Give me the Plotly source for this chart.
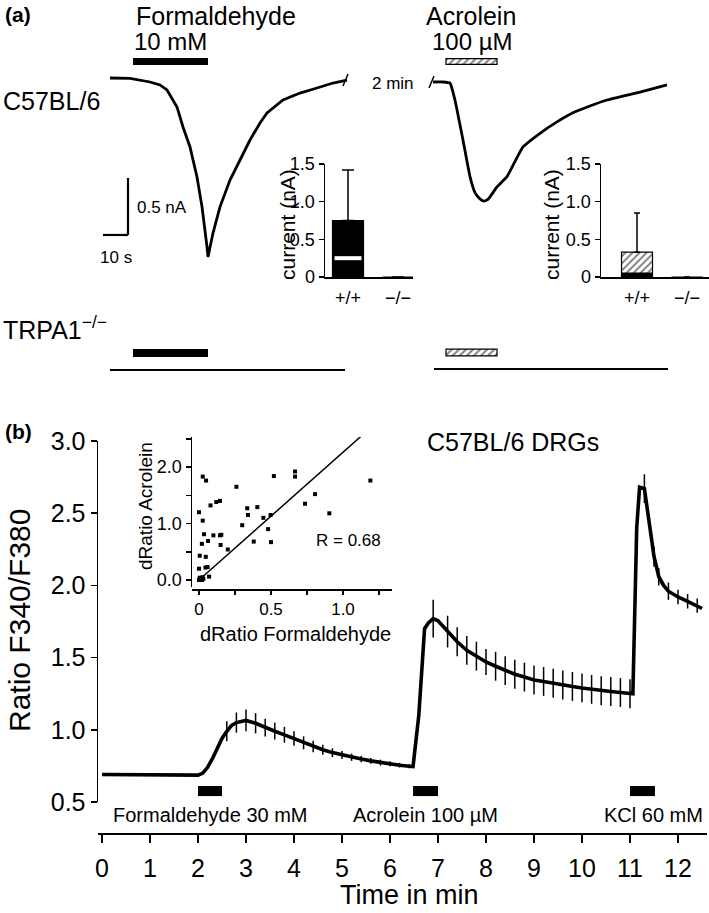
import plotly.graph_objects as go

# ---------------- data ----------------
# Panel (a): whole-cell currents (time in s, current in nA)
form_t = [0, 8, 16, 20, 22.8, 26.8, 29.2, 32, 34.8, 36.8, 38.8, 39.2, 41.2, 44, 48, 52, 56, 60,
          62.8, 69.2, 76, 82.8, 89.2, 94.8]
form_i = [0, -0.004, -0.035, -0.061, -0.105, -0.254, -0.43, -0.605, -0.868, -1.13, -1.48, -1.57,
          -1.36, -1.13, -0.895, -0.72, -0.544, -0.395, -0.307, -0.193, -0.132, -0.088, -0.044, -0.018]
acro_t = [0, 4, 6.8, 8.8, 12, 14.8, 16.8, 18.8, 20.4, 22, 25.6, 29.6, 36, 42.8, 49.6, 56, 62.8,
          69.6, 76, 82.8, 88.8, 93.6]
acro_i = [0, 0, -0.01, -0.16, -0.51, -0.83, -0.97, -1.025, -1.045, -1.03, -0.92, -0.83, -0.57,
          -0.45, -0.35, -0.27, -0.21, -0.158, -0.123, -0.088, -0.053, -0.026]
ko_form_t = [0, 94]
ko_form_i = [0, 0]
ko_acro_t = [0.4, 94]
ko_acro_i = [0, 0]
form_app = [9.2, 39.2]      # s, formaldehyde application
acro_app = [5.2, 25.6]      # s, acrolein application
scale_nA = 0.5
scale_s = 10

# Panel (a) insets: summary currents (nA)
geno = ["+/+", "\u2212/\u2212"]
form_box = [0.75, 0.0]
form_median = 0.25
form_whisk = [1.42, 0.0]
acro_box = [0.33, 0.0]
acro_median = 0.06
acro_whisk = [0.85, 0.0]

# Panel (b): ratio trace (time in min)
t_min = [0, 0.4, 0.8, 1.2, 1.6, 2.0, 2.1, 2.2, 2.3, 2.4, 2.5, 2.6, 2.7, 2.8, 3.0, 3.2, 3.4, 3.6,
         3.8, 4.0, 4.2, 4.4, 4.6, 4.8, 5.0, 5.2, 5.4, 5.6, 5.8, 6.0, 6.2, 6.4, 6.48, 6.6, 6.72,
         6.8, 6.9, 7.0, 7.2, 7.4, 7.6, 7.8, 8.0, 8.2, 8.4, 8.6, 8.8, 9.0, 9.2, 9.4, 9.6, 9.8,
         10.0, 10.2, 10.4, 10.6, 10.8, 11.0, 11.06, 11.14, 11.2, 11.3, 11.4, 11.5, 11.6, 11.7,
         11.8, 12.0, 12.2, 12.4, 12.5]
ratio = [0.69, 0.69, 0.688, 0.687, 0.686, 0.686, 0.70, 0.74, 0.80, 0.87, 0.94, 0.99, 1.03, 1.05,
         1.065, 1.045, 1.015, 0.99, 0.965, 0.94, 0.91, 0.885, 0.862, 0.842, 0.825, 0.81, 0.797,
         0.785, 0.773, 0.765, 0.755, 0.748, 0.745, 1.10, 1.70, 1.74, 1.77, 1.755, 1.68, 1.61,
         1.55, 1.51, 1.47, 1.44, 1.41, 1.385, 1.365, 1.345, 1.335, 1.322, 1.31, 1.30, 1.29, 1.28,
         1.27, 1.265, 1.258, 1.25, 1.25, 2.40, 2.68, 2.67, 2.42, 2.20, 2.06, 2.00, 1.96, 1.92,
         1.89, 1.86, 1.84]
ratio_err = [0, 0, 0, 0, 0, 0, 0, 0, 0, 0, 0, 0.07, 0, 0.07, 0.075, 0.07, 0.062, 0.058, 0.055,
             0.05, 0.045, 0.04, 0.035, 0.03, 0.028, 0.025, 0.022, 0.02, 0.02, 0.018, 0.016,
             0.015, 0, 0, 0, 0, 0.13, 0, 0.11, 0.10, 0.10, 0.10, 0.09, 0.10, 0.10, 0.10, 0.10,
             0.10, 0.10, 0.10, 0.10, 0.10, 0.10, 0.10, 0.10, 0.10, 0.10, 0.10, 0, 0, 0, 0.1, 0,
             0.07, 0.06, 0, 0.06, 0.05, 0.05, 0.05, 0]
stim_names = ["Formaldehyde 30 mM", "Acrolein 100 \u00b5M", "KCl 60 mM"]
stim_start = [2.0, 6.48, 11.0]
stim_end = [2.5, 7.0, 11.52]

# Panel (b) inset: dRatio scatter
sx = [0.285, 1.264, 0.026, 0.049, 0.26, 0.52, 0.667, 0.667, 1.19, 0.806, 0.736, 0.905, 0.0, 0.08,
      0.12, 0.146, 0.335, 0.405, 0.34, 0.447, 0.497, 0.026, 0.30, 0.48, 0.035, 0.10, 0.146,
      0.155, 0.063, 0.02, 0.15, 0.38, 0.50, 0.20, 0.005, 0.047, 0.0, 0.045, 0.06, 0.07, 0.0,
      0.01, 0.02, 0.015, 0.03, 0.005, 0.025]
sy = [2.57, 2.54, 1.83, 1.76, 1.65, 1.84, 1.92, 1.83, 1.76, 1.52, 1.35, 1.18, 1.20, 1.32, 1.38,
      1.40, 1.27, 1.29, 1.15, 1.10, 1.15, 1.05, 0.97, 0.90, 0.81, 0.79, 0.79, 0.80, 0.69, 0.64,
      0.62, 0.68, 0.67, 0.54, 0.43, 0.41, 0.20, 0.22, 0.23, 0.06, 0.0, 0.01, 0.0, 0.03, 0.02,
      0.04, 0.05]
fit_x = [0.0, 1.15]
fit_y = [0.0, 2.6]
r_value = 0.68

# ---------------- helpers ----------------
W, H = 709, 913
FONT = "Arial, Liberation Sans, Helvetica, sans-serif"


def fx(p):
    return p / W


def fy(p):
    return 1 - p / H


def xr(p0, p1, ref_px, ref_val, ppu):
    return [ref_val + (p0 - ref_px) / ppu, ref_val + (p1 - ref_px) / ppu]


def yr(pb, pt, ref_py, ref_val, ppu):
    return [ref_val - (pb - ref_py) / ppu, ref_val - (pt - ref_py) / ppu]


fig = go.Figure()
BLACK = "black"

# ---- panel (a) traces ----
fig.add_trace(go.Scatter(x=form_t, y=form_i, mode="lines", line=dict(color=BLACK, width=2.8),
                         xaxis="x5", yaxis="y5"))
fig.add_trace(go.Scatter(x=acro_t, y=acro_i, mode="lines", line=dict(color=BLACK, width=2.8, shape="spline", smoothing=0.4),
                         xaxis="x6", yaxis="y6"))
fig.add_trace(go.Scatter(x=ko_form_t, y=ko_form_i, mode="lines", line=dict(color=BLACK, width=2),
                         xaxis="x7", yaxis="y7"))
fig.add_trace(go.Scatter(x=ko_acro_t, y=ko_acro_i, mode="lines", line=dict(color=BLACK, width=2),
                         xaxis="x8", yaxis="y8"))

hatch = dict(color="white", line=dict(color=BLACK, width=1.2),
             pattern=dict(shape="/", fgcolor=BLACK, bgcolor="white", size=5, solidity=0.4))
solid = dict(color=BLACK, line=dict(color=BLACK, width=0))
# application bars
fig.add_trace(go.Bar(x=[form_app[1] - form_app[0]], base=[form_app[0]], y=[0.145], width=[0.06],
                     orientation="h", marker=solid, xaxis="x5", yaxis="y5"))
fig.add_trace(go.Bar(x=[acro_app[1] - acro_app[0]], base=[acro_app[0]], y=[0.18], width=[0.05],
                     orientation="h", marker=hatch, xaxis="x6", yaxis="y6"))
fig.add_trace(go.Bar(x=[form_app[1] - form_app[0]], base=[form_app[0]], y=[0.149], width=[0.07],
                     orientation="h", marker=solid, xaxis="x7", yaxis="y7"))
fig.add_trace(go.Bar(x=[acro_app[1] - acro_app[0]], base=[acro_app[0]], y=[0.145], width=[0.06],
                     orientation="h", marker=hatch, xaxis="x8", yaxis="y8"))

# ---- panel (a) summary insets ----
BW = 0.62
pos = [0, 1]
fig.add_trace(go.Bar(x=pos, y=form_box, width=BW, marker=dict(color=BLACK, line=dict(color=BLACK, width=1.2)),
                     error_y=dict(type="data", symmetric=False,
                                  array=[w - b for w, b in zip(form_whisk, form_box)],
                                  arrayminus=[0, 0], width=6, thickness=1.5, color=BLACK),
                     cliponaxis=False, xaxis="x3", yaxis="y3"))
fig.add_trace(go.Scatter(x=[-BW / 2 + 0.04, BW / 2 - 0.04], y=[form_median, form_median], mode="lines",
                         line=dict(color="white", width=4), xaxis="x3", yaxis="y3"))
fig.add_trace(go.Bar(x=pos, y=acro_box, width=BW, marker=hatch,
                     error_y=dict(type="data", symmetric=False,
                                  array=[w - b for w, b in zip(acro_whisk, acro_box)],
                                  arrayminus=[0, 0], width=3, thickness=1.5, color=BLACK),
                     cliponaxis=False, xaxis="x4", yaxis="y4"))
fig.add_trace(go.Bar(x=[0], y=[acro_median], width=BW, marker=solid, xaxis="x4", yaxis="y4"))

# ---- panel (b) main ----
fig.add_trace(go.Scatter(x=t_min, y=ratio, mode="lines", line=dict(color=BLACK, width=3.6),
                         error_y=dict(type="data", array=ratio_err, width=0, thickness=1.5, color=BLACK),
                         xaxis="x", yaxis="y"))
fig.add_trace(go.Bar(x=[e - s for s, e in zip(stim_start, stim_end)], base=stim_start,
                     y=[0.576] * 3, width=[0.07] * 3, orientation="h", marker=solid,
                     xaxis="x", yaxis="y"))

# ---- panel (b) inset ----
fig.add_trace(go.Scatter(x=fit_x, y=fit_y, mode="lines", line=dict(color=BLACK, width=1.5),
                         cliponaxis=False, xaxis="x2", yaxis="y2"))
fig.add_trace(go.Scatter(x=sx, y=sy, mode="markers", marker=dict(symbol="square", size=4, color=BLACK),
                         cliponaxis=False, xaxis="x2", yaxis="y2"))

# ---------------- axes ----------------
base_ax = dict(showgrid=False, zeroline=False, showline=True, linecolor=BLACK, linewidth=1.5,
               tickcolor=BLACK, tickwidth=1.5, fixedrange=True, automargin=False)
hidden = dict(visible=False, showgrid=False, zeroline=False, fixedrange=True, automargin=False)

layout = dict(
    width=W, height=H, margin=dict(l=0, r=0, t=0, b=0, pad=0, autoexpand=False), autosize=False,
    paper_bgcolor="white", plot_bgcolor="rgba(0,0,0,0)", showlegend=False, barmode="overlay",
    font=dict(family=FONT, color=BLACK),
    # main panel b
    xaxis=dict(base_ax, domain=[fx(98), fx(707)], range=xr(98, 707, 102, 0, 48), anchor="free",
               position=fy(833), ticks="outside", ticklen=8, tickvals=list(range(13)),
               tickfont=dict(size=25), ticklabelstandoff=4),
    yaxis=dict(base_ax, domain=[fy(802), fy(441)], range=[0.5, 3.0], anchor="x", ticks="outside",
               ticklen=6, tickvals=[0.5, 1.0, 1.5, 2.0, 2.5, 3.0], tickformat=".1f",
               tickfont=dict(size=25)),
    # scatter inset
    xaxis2=dict(base_ax, domain=[fx(192), fx(392)], range=xr(192, 392, 199, 0, 144), anchor="free",
                position=fy(589), ticks="outside", ticklen=4,
                tickvals=[0, 0.5, 1.0], ticktext=["0", "0.5", "1.0"], tickfont=dict(size=17),
                minor=dict(tickvals=[0.25, 0.75, 1.25], ticks="outside", ticklen=4, tickwidth=1.5,
                           tickcolor=BLACK, showgrid=False)),
    yaxis2=dict(base_ax, domain=[fy(587), fy(437)], range=yr(587, 437, 580, 0, 56.5), anchor="x2",
                ticks="outside", ticklen=5, tickvals=[0, 1.0, 2.0], ticktext=["0.0", "1.0", "2.0"],
                tickfont=dict(size=18),
                minor=dict(tickvals=[0.5, 1.5, 2.5], ticks="outside", ticklen=5, tickwidth=1.5,
                           tickcolor=BLACK, showgrid=False)),
    # formaldehyde summary
    xaxis3=dict(base_ax, domain=[fx(325), fx(413)], range=xr(325, 413, 348, 0, 50), anchor="y3",
                ticks="", tickvals=pos, ticktext=geno, tickfont=dict(size=18), ticklabelstandoff=4),
    yaxis3=dict(base_ax, domain=[fy(277), fy(164)], range=[0, 1.5], anchor="x3", ticks="outside",
                ticklen=5, tickvals=[0, 0.5, 1.0, 1.5], ticktext=["0", "0.5", "1.0", "1.5"],
                tickfont=dict(size=18)),
    # acrolein summary
    xaxis4=dict(base_ax, domain=[fx(601), fx(709)], range=xr(601, 709, 637, 0, 50), anchor="y4",
                ticks="", tickvals=pos, ticktext=geno, tickfont=dict(size=18), ticklabelstandoff=4),
    yaxis4=dict(base_ax, domain=[fy(277), fy(164)], range=[0, 1.5], anchor="x4", ticks="outside",
                ticklen=5, tickvals=[0, 0.5, 1.0, 1.5], ticktext=["0", "0.5", "1.0", "1.5"],
                tickfont=dict(size=18)),
    # current traces (2.5 px/s, 114 px/nA)
    xaxis5=dict(hidden, domain=[fx(85), fx(350)], range=xr(85, 350, 110, 0, 2.5), anchor="y5"),
    yaxis5=dict(hidden, domain=[fy(266), fy(52)], range=yr(266, 52, 78, 0, 114), anchor="x5"),
    xaxis6=dict(hidden, domain=[fx(433), fx(670)], range=xr(433, 670, 433, 0, 2.5), anchor="y6"),
    yaxis6=dict(hidden, domain=[fy(266), fy(52)], range=yr(266, 52, 82, 0, 114), anchor="x6"),
    xaxis7=dict(hidden, domain=[fx(85), fx(350)], range=xr(85, 350, 110, 0, 2.5), anchor="y7"),
    yaxis7=dict(hidden, domain=[fy(380), fy(340)], range=yr(380, 340, 370, 0, 114), anchor="x7"),
    xaxis8=dict(hidden, domain=[fx(433), fx(670)], range=xr(433, 670, 433, 0, 2.5), anchor="y8"),
    yaxis8=dict(hidden, domain=[fy(380), fy(340)], range=yr(380, 340, 369, 0, 114), anchor="x8"),
)

# ---------------- text ----------------
ann = []


def txt(text, px, py, size, anchor="center", angle=0, bold=False):
    if bold:
        text = "<b>" + text + "</b>"
    ann.append(dict(text=text, x=fx(px), y=fy(py), xref="paper", yref="paper", showarrow=False,
                    xanchor=anchor, yanchor="middle", textangle=angle,
                    font=dict(size=size, family=FONT, color=BLACK)))


txt("(a)", 18, 15, 21, bold=True)
txt("Formaldehyde", 216, 16, 25)
txt("10 mM", 170, 41, 24)
txt("Acrolein", 471, 16, 25)
txt("100 \u00b5M", 472, 41, 24)
txt("C57BL/6", 1, 101, 25, anchor="left")
txt("TRPA1<sup>\u2212/\u2212</sup>", 1, 328, 25, anchor="left")
txt("2 min", 393, 83, 17)
txt("%g nA" % scale_nA, 162, 207, 17)
txt("%g s" % scale_s, 116, 257, 17)
txt("current (nA)", 287, 225, 21, angle=-90)
txt("current (nA)", 551, 225, 21, angle=-90)

txt("(b)", 18, 432, 21, bold=True)
txt("C57BL/6 DRGs", 513, 442, 25)
txt("R = %.2f" % r_value, 348, 540, 17)
txt("dRatio Acrolein", 145, 506, 19, angle=-90)
txt("dRatio Formaldehyde", 295, 634, 20)
txt("Ratio F340/F380", 19, 621, 30, angle=-90)
txt("Time in min", 409, 895, 27)
for name, s, e in zip(stim_names, stim_start, stim_end):
    ann.append(dict(text=name, x=(s + e) / 2, y=fy(815), xref="x", yref="paper", showarrow=False,
                    xanchor="center", yanchor="middle", font=dict(size=20, family=FONT, color=BLACK)))
# KCl label is right-aligned near the edge
ann[-1].update(x=fx(705), xref="paper", xanchor="right")
layout["annotations"] = ann

# ---------------- shapes: scale bar and break marks ----------------
sb_t = 7.2
sb_i = -1.377
shapes = [
    dict(type="line", xref="x5", yref="y5", x0=sb_t, x1=sb_t, y0=sb_i, y1=sb_i + scale_nA,
         line=dict(color=BLACK, width=2.2)),
    dict(type="line", xref="x5", yref="y5", x0=sb_t - scale_s, x1=sb_t, y0=sb_i, y1=sb_i,
         line=dict(color=BLACK, width=2.2)),
    dict(type="line", xref="paper", yref="paper", x0=fx(343), x1=fx(348), y0=fy(86), y1=fy(74),
         line=dict(color=BLACK, width=1.5)),
    dict(type="line", xref="paper", yref="paper", x0=fx(429), x1=fx(434), y0=fy(88), y1=fy(76),
         line=dict(color=BLACK, width=1.5)),
]
layout["shapes"] = shapes

fig.update_layout(**layout)
fig.write_html("out.html", config={"displayModeBar": False, "staticPlot": True},
               post_script="document.body.style.margin='0';document.body.style.overflow='hidden';")
